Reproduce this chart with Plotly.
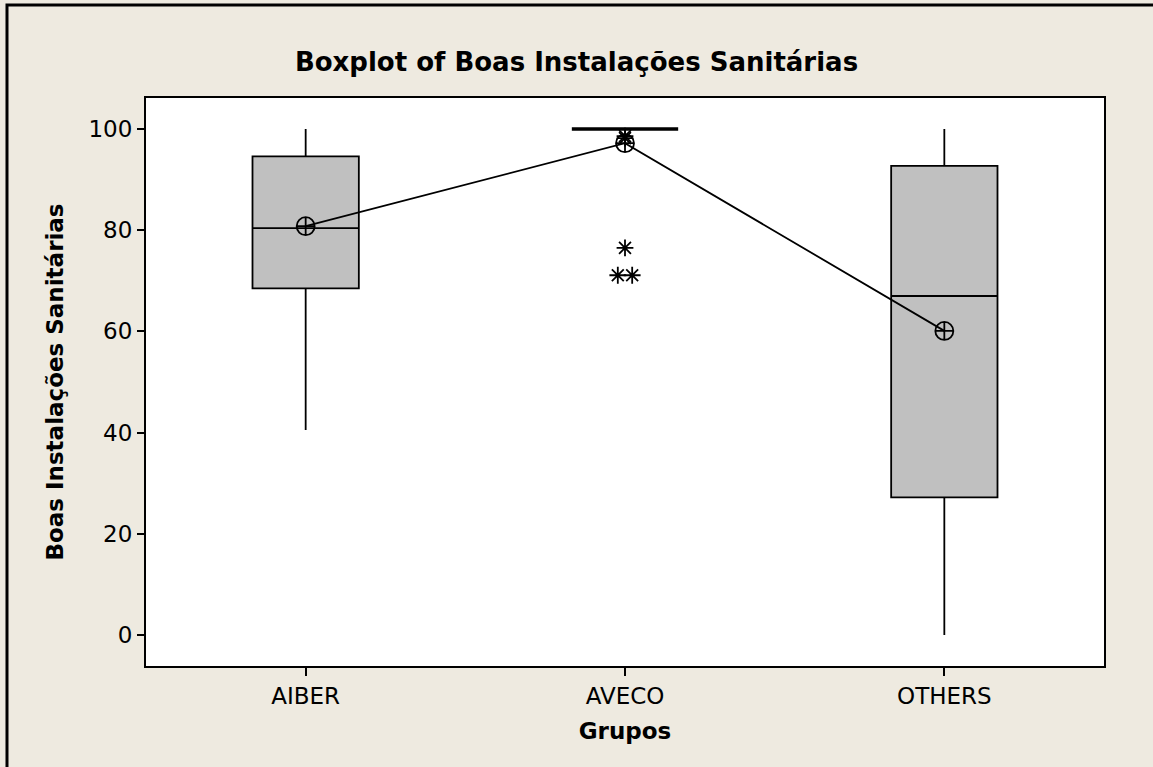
import plotly.graph_objects as go

# values
grupos = ['AIBER', 'AVECO', 'OTHERS']
q1 = [68.5, 100, 27.2]
mediana = [80.4, 100, 67.0]
q3 = [94.6, 100, 92.7]
whisker_low = [40.5, 100, 0]
whisker_high = [100, 100, 100]
medias = [80.8, 97.2, 60.1]
outliers_aveco = [98.6, 98.2, 76.5, 71.1, 71.1]

pos = list(range(len(grupos)))
font = 'DejaVu Sans'

fig = go.Figure()

for i, g in enumerate(grupos):
    fig.add_trace(go.Box(
        x=[pos[i]], q1=[q1[i]], median=[mediana[i]], q3=[q3[i]],
        lowerfence=[whisker_low[i]], upperfence=[whisker_high[i]],
        width=0.333, fillcolor='#C0C0C0', boxpoints=False,
        line=dict(color='black', width=3.5 if q1[i] == q3[i] else 1.8),
        whiskerwidth=0, showlegend=False, name=g))

# duplicates side by side like minitab
ox, oy = [], []
for v in sorted(set(outliers_aveco)):
    n = outliers_aveco.count(v)
    for k in range(n):
        ox.append(pos[1] + (k - (n - 1) / 2) * 0.045)
        oy.append(v)
fig.add_trace(go.Scatter(x=ox, y=oy, mode='markers', showlegend=False,
                         marker=dict(symbol='asterisk-open', size=14, color='black',
                                     line=dict(color='black', width=1.8))))

fig.add_trace(go.Scatter(x=pos, y=medias, mode='lines+markers', showlegend=False,
                         line=dict(color='black', width=1.8),
                         marker=dict(symbol='circle-cross-open', size=18, color='black',
                                     line=dict(color='black', width=1.8))))

fig.update_layout(
    width=1153, height=767,
    margin=dict(l=146, r=49, t=98, b=101),
    paper_bgcolor='#EEEAE0', plot_bgcolor='white',
    font=dict(family=font, color='black', size=23),
    title=dict(text='<b>Boxplot of Boas Instalações Sanitárias</b>', x=0.5, xanchor='center',
               y=1 - 62 / 767, yanchor='middle', font=dict(size=26)),
    xaxis=dict(range=[-0.5, 2.5], tickvals=pos, ticktext=grupos, ticks='outside', ticklen=8,
               tickcolor='black', tickwidth=1.8, showline=True, mirror=True, linecolor='black',
               linewidth=2, showgrid=False, zeroline=False,
               title=dict(text='<b>Grupos</b>', font=dict(size=23), standoff=15)),
    yaxis=dict(range=[-6.13, 106.13], tickvals=[0, 20, 40, 60, 80, 100], ticks='outside', ticklen=7,
               tickcolor='black', tickwidth=1.8, showline=True, mirror=True, linecolor='black',
               linewidth=2, showgrid=False, zeroline=False,
               title=dict(text='<b>Boas Instalações Sanitárias</b>', font=dict(size=23), standoff=18)),
)

# outer frame around the graph window
fig.add_shape(type='rect', xref='paper', yref='paper', x0=-0.1451, x1=1.2, y0=-0.3, y1=1.1637,
              line=dict(color='black', width=3), fillcolor='rgba(0,0,0,0)', layer='below')

fig.write_html('out.html', config={'displayModeBar': False},
               post_script="document.body.style.margin='0px';")
